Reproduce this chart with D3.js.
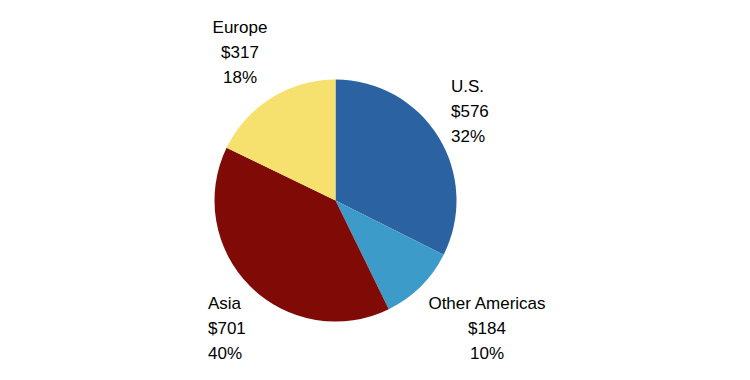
<!DOCTYPE html>
<html>
<head>
<meta charset="utf-8">
<script src="https://cdn.jsdelivr.net/npm/d3@7"></script>
<style>
  body { margin: 0; background: #fff; }
  text { font-family: "Liberation Sans", Arial, sans-serif; font-size: 17px; fill: #000; }
</style>
</head>
<body>
<svg id="pie" width="750" height="380"></svg>
<script>
// regions, clockwise from 12 o'clock
const regions = ["U.S.", "Other Americas", "Asia", "Europe"]
const amounts = [576, 184, 701, 317]
const percents = ["32%", "10%", "40%", "18%"]
const colors = ["#2b63a2", "#3c9bc9", "#800a06", "#f6e06e"]

// label placement: [x, first baseline, anchor]
const labelPos = [
    [451, 92, "start"],
    [487, 309, "middle"],
    [208, 309, "start"],
    [240, 33, "middle"]
]

let chart = function(){
    const svg = d3.select('svg#pie')
    const cx = 335.5, cy = 200.5, r = 121

    const data = regions.map((d, i) => ({region: d, amount: amounts[i], pct: percents[i], i: i}))

    const pie = d3.pie().value(d => d.amount).sort(null)
    const arc = d3.arc().innerRadius(0).outerRadius(r)
    const colorScale = d3.scaleOrdinal().domain(regions).range(colors)

    const g = svg.append("g").attr("transform", `translate(${cx},${cy})`)

    g.selectAll("path.slice")
        .data(pie(data))
        .join("path")
            .attr("class", "slice")
            .attr("d", arc)
            .attr("fill", d => colorScale(d.data.region))

    const labels = svg.selectAll("text.label")
        .data(data)
        .join("text")
            .attr("class", "label")
            .attr("text-anchor", d => labelPos[d.i][2])

    labels.each(function(d){
        const [x, y] = labelPos[d.i]
        const lines = [d.region, "$" + d.amount, d.pct]
        d3.select(this).selectAll("tspan")
            .data(lines)
            .join("tspan")
                .attr("x", x)
                .attr("y", (t, k) => y + k * 24.8)
                .text(t => t)
    })
}

chart()
</script>
</body>
</html>
